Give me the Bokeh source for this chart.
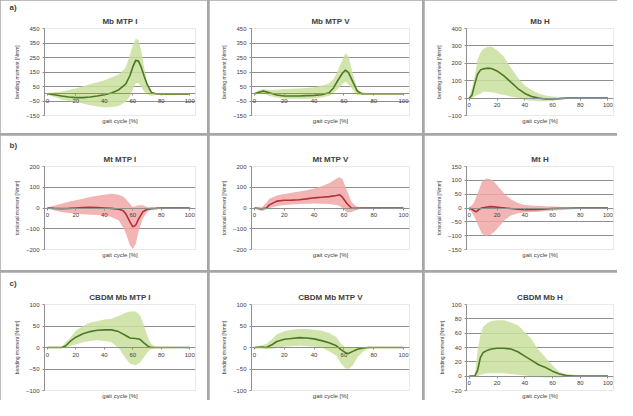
from bokeh.plotting import figure
from bokeh.models import GridBox, FixedTicker, Range1d, Title
from bokeh.embed import file_html
from bokeh.resources import INLINE

# ---------------- data ----------------
X_TICKS = [0, 20, 40, 60, 80, 100]

# a) Mb MTP I
A1_X = [0, 5, 10, 15, 20, 25, 30, 35, 40, 45, 50, 55, 58, 60, 62, 64, 66, 68, 70, 73, 76, 80, 85, 90, 95, 100]
A1_MEAN = [0, -7, -15, -22, -27, -27, -22, -15, -7, 5, 26, 66, 126, 185, 230, 225, 180, 120, 66, 9, 0, -2, -2, -2, -2, -2]
A1_HI = [5, 10, 15, 26, 37, 52, 66, 80, 93, 112, 132, 181, 269, 335, 379, 370, 290, 180, 71, 15, 5, 5, 5, 5, 5, 5]
A1_LO = [-7, -22, -40, -50, -57, -68, -79, -88, -95, -92, -84, -57, -18, 30, 70, 75, 45, 15, -4, -15, -9, -7, -7, -7, -7, -7]

# a) Mb MTP V
A2_X = [0, 3, 6, 10, 15, 20, 25, 30, 35, 40, 45, 50, 53, 56, 59, 61, 63, 66, 69, 72, 76, 80, 85, 90, 95, 100]
A2_MEAN = [0, 10, 18, 7, -9, -15, -15, -15, -13, -11, -7, 7, 40, 93, 141, 163, 148, 82, 18, 0, 0, 0, 0, 0, 0, 0]
A2_HI = [5, 25, 33, 26, 28, 33, 35, 37, 40, 44, 55, 71, 100, 160, 236, 280, 258, 137, 33, 11, 5, 5, 5, 5, 5, 5]
A2_LO = [-7, -2, 5, -15, -25, -33, -36, -37, -36, -33, -25, -15, 5, 35, 66, 82, 66, 27, -11, -9, -7, -7, -7, -7, -7, -7]

# a) Mb H
A3_X = [0, 2, 4, 6, 8, 10, 13, 16, 20, 25, 30, 35, 40, 45, 50, 55, 60, 65, 70, 75, 80, 85, 90, 95, 100]
A3_MEAN = [0, 18, 82, 137, 161, 168, 172, 170, 156, 128, 92, 55, 27, 9, 0, -5, -5, -3, 0, 0, 0, 0, 0, 0, 0]
A3_HI = [9, 60, 130, 220, 260, 282, 293, 297, 275, 238, 174, 119, 73, 46, 27, 15, 9, 6, 4, 4, 4, 4, 4, 4, 4]
A3_LO = [-4, -2, 10, 18, 25, 37, 36, 33, 26, 18, 9, 0, -9, -15, -18, -18, -15, -9, -4, -4, -4, -4, -4, -4, -4]

# b) Mt MTP I
B1_X = [0, 5, 10, 15, 20, 25, 30, 35, 40, 45, 50, 53, 55, 58, 60, 62, 64, 67, 70, 73, 76, 80, 85, 90, 95, 100]
B1_MEAN = [0, -2, -3, -2, 0, 2, 3, 2, 0, -2, -6, -12, -27, -67, -91, -83, -54, -19, -6, -3, -2, 0, 0, 0, 0, 0]
B1_HI = [3, 12, 21, 30, 37, 45, 53, 59, 64, 69, 64, 55, 45, 21, 5, 10, 13, 13, 5, 4, 3, 3, 3, 3, 3, 3]
B1_LO = [-3, -12, -19, -24, -27, -30, -32, -34, -35, -43, -59, -91, -120, -180, -198, -175, -115, -51, -19, -8, -6, -3, -3, -3, -3, -3]

# b) Mt MTP V
B2_X = [0, 5, 8, 10, 15, 20, 25, 30, 35, 40, 45, 50, 55, 57, 59, 62, 65, 68, 72, 76, 80, 85, 90, 95, 100]
B2_MEAN = [0, -4, 0, 15, 33, 37, 38, 40, 44, 49, 52, 55, 60, 64, 52, 22, 0, -2, 0, 0, 0, 0, 0, 0, 0]
B2_HI = [3, 3, 25, 45, 60, 67, 73, 79, 86, 94, 105, 119, 142, 148, 140, 85, 30, 8, 3, 3, 3, 3, 3, 3, 3]
B2_LO = [-3, -15, -7, 0, 10, 15, 17, 19, 20, 22, 20, 19, 15, 10, 0, -22, -20, -10, -4, -3, -3, -3, -3, -3, -3]

# b) Mt H
B3_X = [0, 3, 5, 7, 9, 12, 15, 18, 22, 26, 30, 35, 40, 50, 60, 70, 80, 90, 100]
B3_MEAN = [0, -8, -14, -5, 0, 3, 5, 4, 2, 0, -2, -4, -6, -5, -2, -1, 0, 0, 0]
B3_HI = [3, 15, 40, 65, 94, 107, 105, 94, 71, 48, 32, 18, 11, 7, 5, 3, 3, 3, 3]
B3_LO = [-3, -25, -45, -70, -92, -101, -98, -87, -64, -42, -27, -19, -16, -14, -9, -6, -3, -3, -3]

# c) CBDM Mb MTP I
C1_X = [0, 5, 10, 13, 16, 20, 25, 30, 35, 40, 45, 50, 55, 58, 62, 65, 68, 71, 73, 76, 80, 85, 90, 95, 100]
C1_MEAN = [0, 0, 0, 4, 14, 24, 32, 37, 40, 41, 41, 37, 28, 22, 21, 19, 10, 2, 0, 0, 0, 0, 0, 0, 0]
C1_HI = [1, 2, 2, 12, 22, 39, 50, 58, 61, 65, 67, 73, 81, 84, 84, 75, 50, 20, 8, 2, 1, 1, 1, 1, 1]
C1_LO = [-1, -1, -1, 0, 4, 7, 12, 15, 17, 15, 12, -1, -25, -38, -41, -35, -22, -8, -3, -1, -1, -1, -1, -1, -1]

# c) CBDM Mb MTP V
C2_X = [0, 5, 8, 12, 15, 20, 25, 30, 35, 40, 45, 50, 55, 58, 61, 63, 66, 69, 73, 76, 80, 85, 90, 95, 100]
C2_MEAN = [0, 1, 0, 7, 14, 19, 21, 23, 22, 20, 16, 11, 4, -5, -12, -14, -9, -4, -1, 0, 0, 0, 0, 0, 0]
C2_HI = [1, 5, 8, 20, 31, 38, 41, 43, 43, 41, 39, 34, 24, 9, 0, -1, 0, 0, 1, 1, 1, 1, 1, 1, 1]
C2_LO = [-1, -3, -4, -3, -1, 2, 3, 4, 3, 2, 0, -9, -19, -37, -48, -50, -41, -23, -9, -3, -1, -1, -1, -1, -1]

# c) CBDM Mb H
C3_X = [0, 4, 6, 8, 10, 13, 16, 20, 25, 30, 35, 40, 45, 50, 55, 60, 65, 70, 75, 80, 85, 90, 95, 100]
C3_MEAN = [0, 0, 8, 26, 33, 36, 38, 39, 39, 38, 34, 28, 22, 16, 12, 7, 3, 1, 0, 0, 0, 0, 0, 0]
C3_HI = [1, 2, 35, 57, 69, 74, 77, 78, 78, 75, 71, 62, 51, 37, 26, 15, 6, 3, 2, 1, 1, 1, 1, 1]
C3_LO = [-1, -1, 0, 2, 3, 4, 4, 4, 4, 3, 2, 1, 0, -1, -2, -2, -2, -1, -1, -1, -1, -1, -1, -1]

A12_YTICKS = [-150, -50, 50, 150, 250, 350, 450]
A3_YTICKS = [-100, 0, 100, 200, 300, 400]
B12_YTICKS = [-200, -100, 0, 100, 200]
B3_YTICKS = [-150, -100, -50, 0, 50, 100, 150]
C12_YTICKS = [-100, -50, 0, 50, 100]
C3_YTICKS = [-20, 0, 20, 40, 60, 80, 100]

TITLES = [["Mb MTP I", "Mb MTP V", "Mb H"],
          ["Mt MTP I", "Mt MTP V", "Mt H"],
          ["CBDM Mb MTP I", "CBDM Mb MTP V", "CBDM Mb H"]]
ROW_LABELS = ["a)", "b)", "c)"]
Y_TITLES = ["bending moment [Nmm]", "torsional moment [Nmm]", "bending moment [Nmm]"]
X_TITLE = "gait cycle [%]"

SERIES = [[(A1_X, A1_MEAN, A1_LO, A1_HI, A12_YTICKS),
           (A2_X, A2_MEAN, A2_LO, A2_HI, A12_YTICKS),
           (A3_X, A3_MEAN, A3_LO, A3_HI, A3_YTICKS)],
          [(B1_X, B1_MEAN, B1_LO, B1_HI, B12_YTICKS),
           (B2_X, B2_MEAN, B2_LO, B2_HI, B12_YTICKS),
           (B3_X, B3_MEAN, B3_LO, B3_HI, B3_YTICKS)],
          [(C1_X, C1_MEAN, C1_LO, C1_HI, C12_YTICKS),
           (C2_X, C2_MEAN, C2_LO, C2_HI, C12_YTICKS),
           (C3_X, C3_MEAN, C3_LO, C3_HI, C3_YTICKS)]]

# ---------------- layout / style ----------------
FONT = "Liberation Sans"
COL_W = [207, 213, 193]
COL_L = [44, 42, 42]
COL_R = [12, 13, 4]
ROW_H = [133, 135, 128]
ROW_T = [28, 31, 32]
ROW_B = [18, 21, 10]
GREEN_FILL, GREEN_LINE = "#c9df9e", "#4b7a24"
RED_FILL, RED_LINE = "#f1a7a7", "#b3303a"
GRID = "#8f8f8f"
TXT = "#404040"


def style_title(t, size, align, standoff, offset=0):
    t.align = align
    t.offset = offset
    t.text_font = FONT
    t.text_font_size = size
    t.text_font_style = "bold"
    t.text_color = TXT
    t.standoff = standoff


children = []
for r in range(3):
    for c in range(3):
        xs, mean, lo, hi, yt = SERIES[r][c]
        fill, line = (RED_FILL, RED_LINE) if r == 1 else (GREEN_FILL, GREEN_LINE)
        p = figure(width=COL_W[c], height=ROW_H[r], output_backend="svg",
                   toolbar_location=None,
                   x_range=Range1d(-2, 104), y_range=Range1d(yt[0], yt[-1]),
                   min_border_left=COL_L[c], min_border_right=COL_R[c],
                   min_border_top=ROW_T[r], min_border_bottom=ROW_B[r])
        if c == 0:
            # outer line of the top panel: the row label; chart title added nearer the frame
            p.title.text = ROW_LABELS[r]
            style_title(p.title, "8px", "left", 0, offset=-(COL_L[c] - 9))
            main = Title(text=TITLES[r][c])
            style_title(main, "8px", "center", 6)
            p.add_layout(main, "above")
        else:
            p.title.text = TITLES[r][c]
            style_title(p.title, "8px", "center", 6)
        p.outline_line_color = None
        p.background_fill_color = "white"
        p.border_fill_color = "white"

        p.xgrid.visible = False
        p.ygrid.ticker = FixedTicker(ticks=yt)
        p.ygrid.grid_line_color = GRID
        p.ygrid.grid_line_width = 1

        xa = p.xaxis[0]
        xa.ticker = FixedTicker(ticks=X_TICKS)
        xa.fixed_location = 0
        xa.axis_line_color = GRID
        xa.major_tick_line_color = GRID
        xa.major_tick_in = 0
        xa.major_tick_out = 2
        xa.minor_tick_line_color = None
        xa.major_label_text_font = FONT
        xa.major_label_text_font_size = "6px"
        xa.major_label_text_color = TXT
        xa.major_label_standoff = 3

        ya = p.yaxis[0]
        ya.ticker = FixedTicker(ticks=yt)
        ya.axis_line_color = GRID
        ya.major_tick_line_color = GRID
        ya.major_tick_in = 0
        ya.major_tick_out = 2
        ya.minor_tick_line_color = None
        ya.major_label_text_font = FONT
        ya.major_label_text_font_size = "6px"
        ya.major_label_text_color = TXT
        ya.major_label_standoff = 3
        ya.axis_label = Y_TITLES[r]
        ya.axis_label_text_font = FONT
        ya.axis_label_text_font_size = "5px"
        ya.axis_label_text_font_style = "normal"
        ya.axis_label_text_color = TXT
        ya.axis_label_standoff = 3

        p.add_layout(Title(text=X_TITLE, align="center", text_font=FONT,
                           text_font_size="6px", text_font_style="normal",
                           text_color=TXT, standoff=1), "below")

        p.varea(x=xs, y1=lo, y2=hi, fill_color=fill, fill_alpha=0.85)
        p.line(xs, mean, line_color=line, line_width=1.6)
        children.append((p, r, c))

grid = GridBox(children=children, spacing=2,
               styles={"background-color": "#a6a6a6"})

open("out.html", "w").write(file_html(grid, INLINE))
